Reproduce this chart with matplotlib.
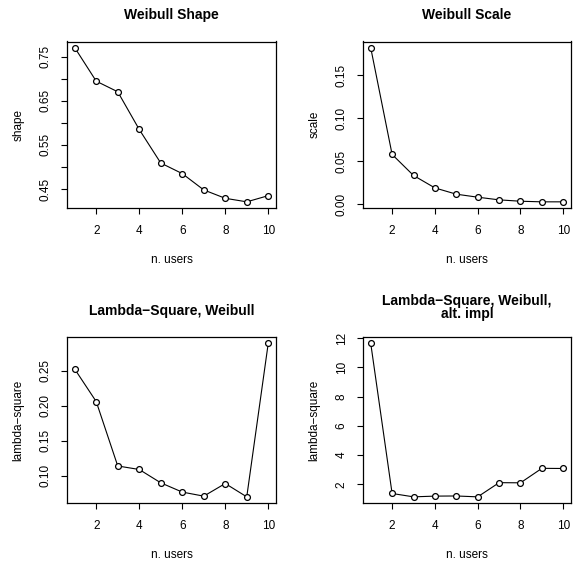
import matplotlib
matplotlib.use('Agg')
import matplotlib.pyplot as plt

plt.rcParams['font.family'] = ['Liberation Sans', 'DejaVu Sans']

# Data
users = [1, 2, 3, 4, 5, 6, 7, 8, 9, 10]
shape = [0.7705, 0.6945, 0.6705, 0.585, 0.509, 0.485, 0.448, 0.429, 0.421, 0.435]
scale = [0.1823, 0.058, 0.0335, 0.019, 0.0117, 0.0082, 0.0051, 0.0035, 0.0028, 0.0028]
lambda_sq = [0.252, 0.2057, 0.114, 0.109, 0.090, 0.0768, 0.071, 0.089, 0.070, 0.289]
lambda_sq_alt = [11.65, 1.37, 1.14, 1.19, 1.20, 1.14, 2.11, 2.10, 3.09, 3.08]

x_ticks = [2, 4, 6, 8, 10]
shape_ticks = [0.45, 0.50, 0.55, 0.60, 0.65, 0.70, 0.75]
shape_labels = ['0.45', '', '0.55', '', '0.65', '', '0.75']
scale_ticks = [0.00, 0.05, 0.10, 0.15]
scale_labels = ['0.00', '0.05', '0.10', '0.15']
lsq_ticks = [0.10, 0.15, 0.20, 0.25]
lsq_labels = ['0.10', '0.15', '0.20', '0.25']
alt_ticks = [2, 4, 6, 8, 10, 12]
alt_labels = ['2', '4', '6', '8', '10', '12']

W, H = 575, 561
fig = plt.figure(figsize=(W / 100, H / 100), dpi=100)


def r_axes(box):
    # box in pixels: left, top, right, bottom
    l, t, r, b = box
    return fig.add_axes([l / W, 1 - b / H, (r - l) / W, (b - t) / H])


def r_range(vals):
    lo, hi = min(vals), max(vals)
    pad = (hi - lo) * 0.04
    return lo - pad, hi + pad


def panel(box, y, title, ylabel, yticks, ylabels, title_pad=16):
    ax = r_axes(box)
    ax.plot(users, y, color='black', lw=0.8, marker='o', markersize=4.2,
            markerfacecolor='white', markeredgecolor='black', markeredgewidth=0.9)
    ax.set_xlim(*r_range(users))
    ax.set_ylim(*r_range(y))
    ax.set_xticks(x_ticks)
    ax.set_xticklabels([str(v) for v in x_ticks])
    ax.set_yticks(yticks)
    ax.set_yticklabels(ylabels, rotation=90, va='center')
    ax.tick_params(direction='out', length=4.5, width=0.8, labelsize=8.5)
    ax.tick_params(axis='x', pad=8)
    ax.tick_params(axis='y', pad=6.5)
    for s in ax.spines.values():
        s.set_linewidth(0.9)
    ax.set_title(title, fontsize=10, fontweight='bold', pad=title_pad, linespacing=0.9)
    ax.set_xlabel('n. users', fontsize=8.5, labelpad=12)
    ax.set_ylabel(ylabel, fontsize=8.5, labelpad=11)
    return ax


panel((67, 41.5, 276, 208), shape, 'Weibull Shape', 'shape', shape_ticks, shape_labels)
panel((363, 41.5, 571, 208), scale, 'Weibull Scale', 'scale', scale_ticks, scale_labels)
panel((67, 337, 276, 503), lambda_sq, 'Lambda\u2212Square, Weibull', 'lambda\u2212square',
      lsq_ticks, lsq_labels)
panel((363, 337, 571, 503), lambda_sq_alt, 'Lambda\u2212Square, Weibull,\nalt. impl',
      'lambda\u2212square', alt_ticks, alt_labels, title_pad=14)

fig.savefig('out.png', dpi=100)
